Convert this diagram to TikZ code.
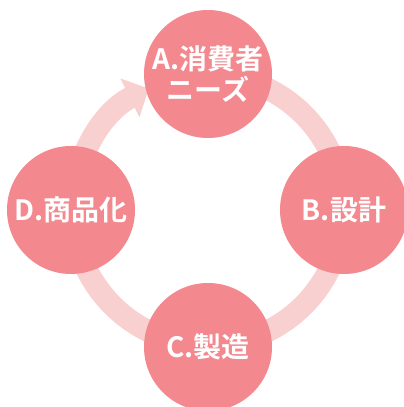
\documentclass[tikz,border=0pt]{standalone}
\usepackage{fontspec}
\setmainfont{Noto Sans CJK JP}[BoldFont={* Bold}]
\usetikzlibrary{arrows.meta}
\definecolor{stagepink}{HTML}{F3888F}
\definecolor{ringpink}{HTML}{F9D0D0}
\tikzset{
  stage/.style={circle, fill=stagepink, minimum size=128pt, inner sep=0pt,
    text=white, align=center, font=\bfseries\fontsize{28}{31}\selectfont},
  ring/.style={line width=22pt, draw=ringpink,
    -{Triangle[width=42pt, length=21pt]}}
}
\begin{document}
\begin{tikzpicture}[x=1pt, y=1pt]
\useasboundingbox (0,0) rectangle (404,407);
\coordinate (Hub) at (208,197);
% \node at (208,197) {Cycle};
\draw[ring] (Hub) ++(90:135pt) arc[start angle=90, end angle=-244, radius=135pt];

\node[stage] (Needs) at (208,333) {A.消費者\\ニーズ};
\node[stage] (Design) at (344,197) {B.設計};
\node[stage] (Make) at (208,60) {C.製造};
\node[stage] (Product) at (71,197) {D.商品化};
\end{tikzpicture}
\end{document}
